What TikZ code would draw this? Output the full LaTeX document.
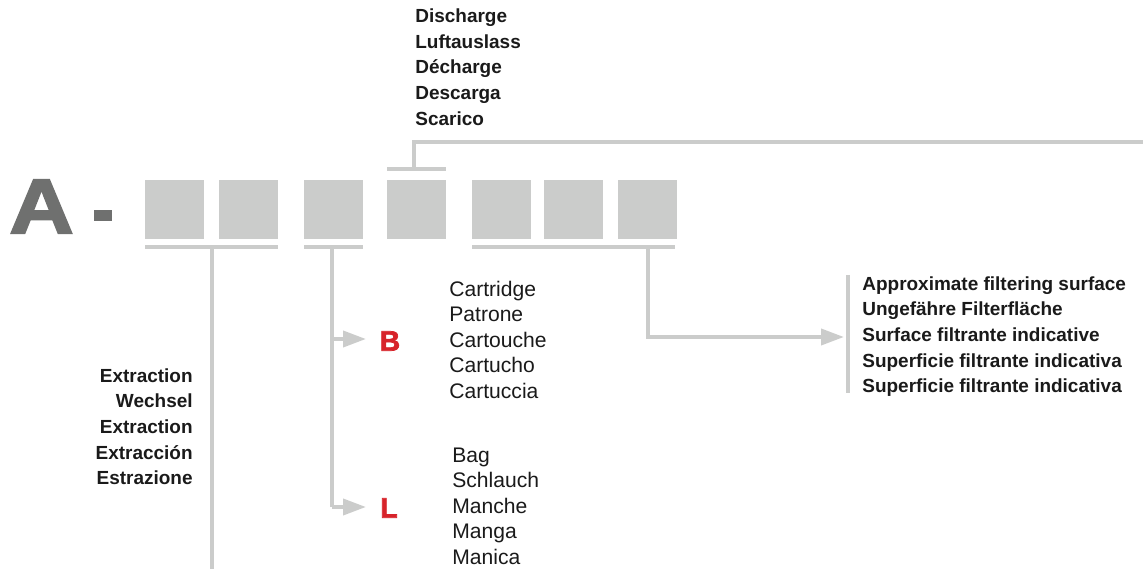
\documentclass[tikz,border=0pt]{standalone}
\usepackage{fontspec}
\setmainfont{Liberation Sans}
\newfontfamily\heavyfont{Liberation Sans Bold}[FakeBold=2.5]
\usetikzlibrary{positioning,arrows.meta}
\definecolor{PanelGray}{RGB}{203,204,203}
\definecolor{LetterGray}{RGB}{111,112,111}
\definecolor{CodeRed}{RGB}{215,35,42}
\definecolor{InkBlack}{RGB}{26,26,26}

\begin{document}
\begin{tikzpicture}[
    % Style for the code slots
    slot/.style={rectangle, fill=PanelGray, minimum width=1.18cm, minimum height=1.18cm, inner sep=0pt},
    bigletter/.style={text=LetterGray, font=\fontsize{44}{44}\selectfont\heavyfont, inner sep=0pt},
    hyphenbar/.style={rectangle, fill=LetterGray, minimum width=0.36cm, minimum height=0.22cm, inner sep=0pt},
    codeletter/.style={text=CodeRed, font=\fontsize{16}{16}\selectfont\heavyfont, inner sep=0pt},
    % Style for the lines
    link/.style={draw=PanelGray, line width=2.2pt},
    pointer/.style={draw=PanelGray, line width=2.2pt, -{Triangle[length=0.46cm, width=0.32cm]}},
    % Style for the label blocks
    boldlabel/.style={text=InkBlack, font=\fontsize{10.8}{14.6}\selectfont\bfseries, inner sep=0pt},
    plainlabel/.style={text=InkBlack, font=\fontsize{12}{14.5}\selectfont, inner sep=0pt, anchor=north west, align=left}
]
    \useasboundingbox (0,0) rectangle (22.86,-11.38);

    % --- PREFIX ---
    \node[bigletter] (pre) at (0.83, -4.13) {\scalebox{1.15}[1]{A}};
    \node[hyphenbar] (hy) at (2.06, -4.31) {};

    % --- SLOTS ---
    \node[slot] (s1) at (3.49, -4.19) {};
    \node[slot] (s2) at (4.97, -4.19) {};
    \node[slot] (s3) at (6.67, -4.19) {};
    \node[slot] (s4) at (8.33, -4.19) {};
    \node[slot] (s5) at (10.03, -4.19) {};
    \node[slot] (s6) at (11.47, -4.19) {};
    \node[slot] (s7) at (12.95, -4.19) {};

    % --- BRACKETS ---
    \coordinate (u1a) at (2.90, -4.94); \coordinate (u1b) at (5.56, -4.94);
    \coordinate (u3a) at (6.08, -4.94); \coordinate (u3b) at (7.26, -4.94);
    \coordinate (u5a) at (9.44, -4.94); \coordinate (u5b) at (13.50, -4.94);
    \coordinate (o4a) at (7.74, -3.38); \coordinate (o4b) at (8.92, -3.38);
    \draw[link] (u1a) -- (u1b);
    \draw[link] (u3a) -- (u3b);
    \draw[link] (u5a) -- (u5b);
    \draw[link] (o4a) -- (o4b);

    % --- LABELS ---
    \node[boldlabel, anchor=north west, align=left] (dis) at (8.30, -0.17)
        {Discharge\\Luftauslass\\Décharge\\Descarga\\Scarico};
    \node[boldlabel, anchor=north east, align=right] (ext) at (3.86, -7.36)
        {Extraction\\Wechsel\\Extraction\\Extracción\\Estrazione};
    \node[codeletter] (cB) at (7.80, -6.82) {B};
    \node[codeletter] (cL) at (7.78, -10.16) {L};
    \node[plainlabel] (car) at (8.98, -5.61)
        {Cartridge\\Patrone\\Cartouche\\Cartucho\\Cartuccia};
    \node[plainlabel] (bag) at (9.04, -8.95)
        {Bag\\Schlauch\\Manche\\Manga\\Manica};
    \node[boldlabel, anchor=north west, align=left] (sur) at (17.24, -5.52)
        {Approximate filtering surface\\Ungefähre Filterfläche\\Surface filtrante indicative\\Superficie filtrante indicativa\\Superficie filtrante indicativa};

    % --- CONNECTORS ---
    \coordinate (k1) at (4.24, -4.94);
    \coordinate (k1end) at (4.24, -11.40);
    \draw[link] (k1) -- (k1end);

    \coordinate (k3) at (6.64, -4.94);
    \coordinate (kB) at (6.64, -6.78);
    \coordinate (kL) at (6.64, -10.14);
    \coordinate (tB) at (7.32, -6.78);
    \coordinate (tL) at (7.32, -10.14);
    \draw[link] (k3) -- (kL);
    \draw[pointer] (kB) -- (tB);
    \draw[pointer] (kL) -- (tL);

    \coordinate (k7) at (12.96, -4.94);
    \coordinate (tS) at (16.88, -6.74);
    \draw[pointer] (k7) |- (tS);
    \coordinate (barT) at (16.96, -5.50);
    \coordinate (barB) at (16.96, -7.86);
    \draw[link] (barT) -- (barB);

    \coordinate (k4) at (8.28, -3.38);
    \coordinate (k4end) at (22.90, -2.84);
    \draw[link] (k4) |- (k4end);
\end{tikzpicture}
\end{document}
